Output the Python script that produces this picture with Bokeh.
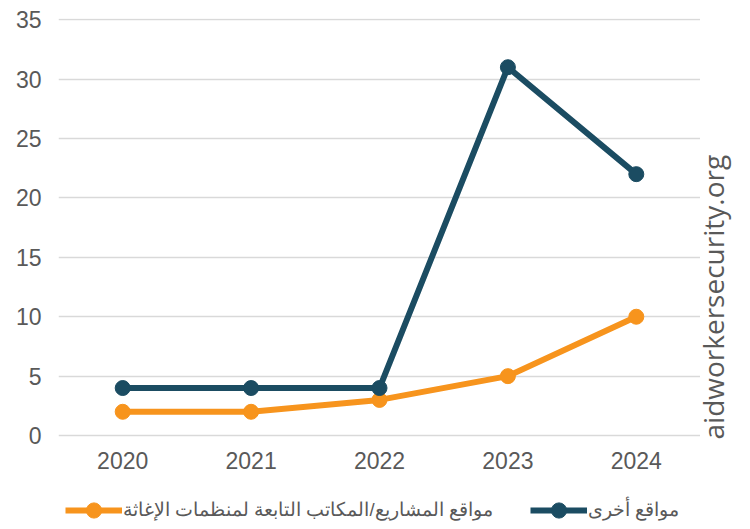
import math
from bokeh.plotting import figure
from bokeh.layouts import row, column
from bokeh.models import Range1d, FactorRange, Label, Legend, LegendItem, SingleIntervalTicker
from bokeh.embed import file_html
from bokeh.resources import INLINE

years = ["2020", "2021", "2022", "2023", "2024"]
aid_sites = [2, 2, 3, 5, 10]
other_sites = [4, 4, 4, 31, 22]
label_aid = "مواقع المشاريع/المكاتب التابعة لمنظمات الإغاثة"
label_other = "مواقع أخرى"
source_text = "aidworkersecurity.org"

ORANGE = "#f7941d"
DARK = "#1b4c62"
GRAY_TXT = "#595959"
LW = 6
MS = 15

x_range = FactorRange(*years)
y_range = Range1d(-0.5, 35.1)

# ---- main chart ----
p = figure(x_range=x_range, y_range=y_range,
           frame_width=642, frame_height=423,
           min_border_left=58, min_border_right=0, min_border_top=18, min_border_bottom=37,
           output_backend="svg", toolbar_location=None)
p.outline_line_color = None
p.xgrid.grid_line_color = None
p.ygrid.grid_line_color = "#d9d9d9"
p.ygrid.grid_line_width = 1.5
p.yaxis.ticker = SingleIntervalTicker(interval=5)

for ax in (p.xaxis[0], p.yaxis[0]):
    ax.axis_line_color = None
    ax.major_tick_line_color = None
    ax.minor_tick_line_color = None
    ax.major_label_text_font = "Liberation Sans"
    ax.major_label_text_font_size = "23px"
    ax.major_label_text_color = GRAY_TXT
p.yaxis.major_label_standoff = 11
p.xaxis.major_label_standoff = 4

p.line(years, aid_sites, line_color=ORANGE, line_width=LW)
p.scatter(years, aid_sites, size=MS, color=ORANGE)
p.line(years, other_sites, line_color=DARK, line_width=LW)
p.scatter(years, other_sites, size=MS, color=DARK)

# ---- source note strip on the right ----
p_src = figure(width=42, height=478, x_range=Range1d(0, 1), y_range=Range1d(0, 1),
               min_border=0, output_backend="svg", toolbar_location=None)
p_src.axis.visible = False
p_src.grid.visible = False
p_src.outline_line_color = None
p_src.add_layout(Label(x=12, y=2, x_units="screen", y_units="screen", text=source_text,
                       angle=math.pi / 2, text_align="left", text_baseline="alphabetic",
                       text_font="Open Sans", text_font_size="28px", text_color=GRAY_TXT))

# ---- legend strip at the bottom ----
p_leg = figure(width=742, height=43, x_range=x_range, y_range=y_range,
               min_border=0, output_backend="svg", toolbar_location=None)
p_leg.axis.visible = False
p_leg.grid.visible = False
p_leg.outline_line_color = None
k1 = p_leg.line(years, aid_sites, line_color=ORANGE, line_width=LW, visible=False)
k2 = p_leg.scatter(years, aid_sites, size=MS, color=ORANGE, visible=False)
k3 = p_leg.line(years, other_sites, line_color=DARK, line_width=LW, visible=False)
k4 = p_leg.scatter(years, other_sites, size=MS, color=DARK, visible=False)
legend = Legend(items=[LegendItem(label=label_aid, renderers=[k1, k2]),
                       LegendItem(label=label_other, renderers=[k3, k4])],
                orientation="horizontal", location=(65, -8),
                glyph_width=57, glyph_height=38, label_standoff=1, spacing=37,
                label_text_font_size="18.5px", label_text_color=GRAY_TXT,
                label_text_font="Liberation Sans", inactive_fill_alpha=0,
                border_line_color=None, background_fill_alpha=0, padding=0, margin=0)
p_leg.add_layout(legend, "center")

layout = column(row(p, p_src), p_leg)
open("out.html", "w").write(file_html(layout, INLINE))
